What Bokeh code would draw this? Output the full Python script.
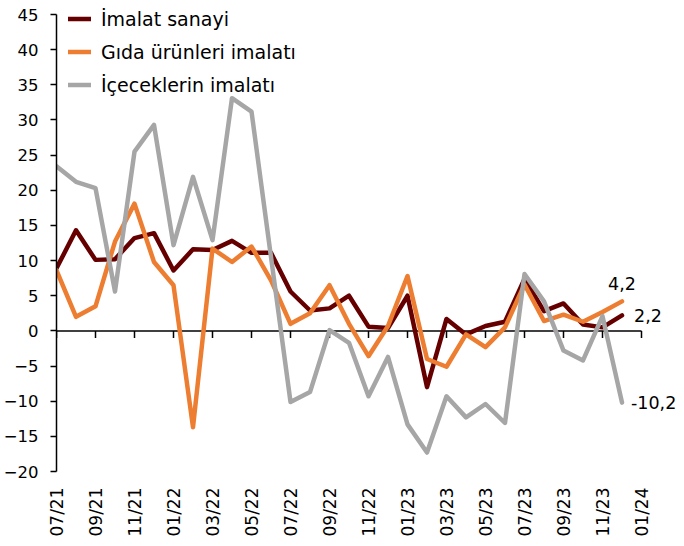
from bokeh.plotting import figure
from bokeh.models import Range1d, FixedTicker, Legend, LegendItem, ColumnDataSource, LabelSet
from bokeh.core.properties import value
from bokeh.embed import file_html
from bokeh.resources import INLINE
import math

# ---------------- data ----------------
tick_labels = ["07/21", "09/21", "11/21", "01/22", "03/22", "05/22", "07/22", "09/22",
               "11/22", "01/23", "03/23", "05/23", "07/23", "09/23", "11/23", "01/24"]

imalat = [8.9, 14.3, 10.1, 10.2, 13.2, 13.9, 8.6, 11.6, 11.5, 12.8, 11.1, 11.1, 5.6, 2.9, 3.2,
          5.0, 0.6, 0.4, 5.0, -8.0, 1.7, -0.5, 0.7, 1.3, 7.4, 2.8, 3.9, 0.9, 0.5, 2.2]
gida = [8.6, 2.0, 3.5, 12.7, 18.1, 9.8, 6.5, -13.7, 11.7, 9.8, 12.0, 7.2, 1.0, 2.5, 6.5,
        1.0, -3.6, 0.7, 7.8, -4.0, -5.1, -0.5, -2.3, 0.5, 6.6, 1.4, 2.3, 1.3, 2.7, 4.2]
icecek = [23.4, 21.2, 20.3, 5.6, 25.5, 29.3, 12.2, 21.9, 12.9, 33.1, 31.2, 10.5, -10.1, -8.7, 0.1,
          -1.7, -9.3, -3.7, -13.3, -17.3, -9.3, -12.3, -10.4, -13.1, 8.1, 4.2, -2.8, -4.2, 2.1, -10.2]

series_names = ["İmalat sanayi", "Gıda ürünleri imalatı", "İçeceklerin imalatı"]
colors = ["#660000", "#ED7D31", "#A6A6A6"]

y_ticks = list(range(-20, 50, 5))

# ---------------- figure ----------------
FONT = "DejaVu Sans"
px_per_month = 19.5
px_per_unit = 457 / 65.0
top_pad = 6                      # extra frame room above 45 so the legend is not clipped
frame_w = 621
frame_h = 457 + top_pad
x = list(range(len(imalat)))
tick_pos = [2 * i for i in range(len(tick_labels))]

p = figure(output_backend="svg", toolbar_location=None,
           frame_width=frame_w, frame_height=frame_h,
           min_border_left=47, min_border_right=0, min_border_top=8, min_border_bottom=67,
           x_range=Range1d(0, frame_w / px_per_month),
           y_range=Range1d(y_ticks[0], y_ticks[-1] + top_pad / px_per_unit))
p.outline_line_color = None
p.grid.visible = False
p.background_fill_color = "white"
p.border_fill_color = "white"

# y axis
ya = p.yaxis[0]
ya.ticker = FixedTicker(ticks=y_ticks)
ya.bounds = (y_ticks[0], y_ticks[-1])
ya.axis_line_color = "black"
ya.axis_line_width = 1.5
ya.major_tick_line_width = 1.5
ya.major_tick_out = 6
ya.major_tick_in = 0
ya.minor_tick_line_color = None
ya.major_label_standoff = 12
ya.major_label_text_font = FONT
ya.major_label_text_font_size = "16.5px"
ya.major_label_text_color = "black"

# bottom label axis
xa = p.xaxis[0]
xa.ticker = FixedTicker(ticks=tick_pos)
xa.major_label_overrides = {t: lab for t, lab in zip(tick_pos, tick_labels)}
xa.axis_line_color = None
xa.major_tick_line_color = None
xa.minor_tick_line_color = None
xa.major_label_orientation = math.pi / 2
xa.major_label_standoff = 10
xa.major_label_text_font = FONT
xa.major_label_text_font_size = "17px"
xa.major_label_text_color = "black"

# zero line with tick marks pointing down (one per tick label)
tick_len = 7 / px_per_unit
p.line([tick_pos[0], tick_pos[-1]], [0, 0], line_color="black", line_width=1.5)
p.segment(x0=tick_pos, y0=[0] * len(tick_pos), x1=tick_pos, y1=[-tick_len] * len(tick_pos),
          line_color="black", line_width=1.5)

# lines
renderers = []
for vals, c in zip([imalat, gida, icecek], colors):
    r = p.line(x, vals, line_color=c, line_width=4.5, line_join="round", line_cap="round")
    renderers.append(r)

# end labels
last_x = x[-1]
lab_src = ColumnDataSource(dict(
    x=[last_x, last_x, last_x],
    y=[gida[-1], imalat[-1], icecek[-1]],
    t=[f"{v:.1f}".replace(".", ",") for v in [gida[-1], imalat[-1], icecek[-1]]],
    xo=[0, 12, 9], yo=[11, 0, 0],
    align=["center", "left", "left"], base=["bottom", "middle", "middle"],
))
labels = LabelSet(x="x", y="y", text="t", source=lab_src, x_offset="xo", y_offset="yo",
                  text_align="align", text_baseline="base",
                  text_font=value(FONT), text_font_size=value("17.5px"), text_color="black")
p.add_layout(labels)

# legend
legend = Legend(items=[LegendItem(label=n, renderers=[r]) for n, r in zip(series_names, renderers)],
                location=(12, frame_h - 99 + 6), orientation="vertical",
                glyph_width=23, glyph_height=33, label_height=33, spacing=0,
                label_standoff=10, padding=0, margin=0,
                border_line_color=None, background_fill_alpha=0,
                label_text_font=FONT, label_text_font_size="19px",
                label_text_color="black", label_text_baseline="middle")
p.add_layout(legend)

open("out.html", "w").write(file_html(p, INLINE))
